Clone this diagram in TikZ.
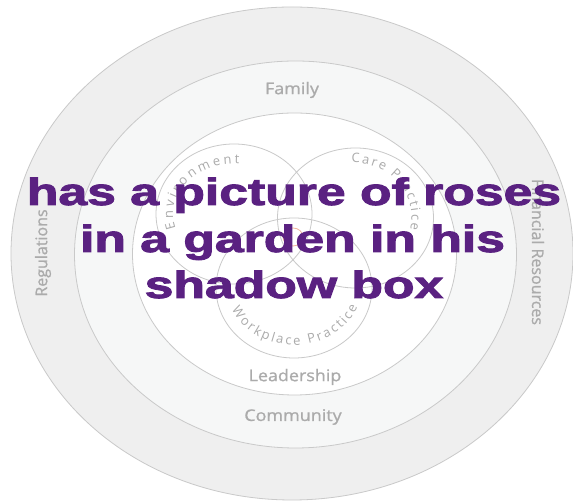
\documentclass[tikz,border=0pt]{standalone}
\usepackage{fontspec}
\setmainfont{Liberation Sans}
\newfontfamily\ringfont{Open Sans}[FakeBold=1]
\newfontfamily\arcfont{Open Sans}
\newfontfamily\quotefont{Liberation Sans Bold}[FakeBold=2.2]
\usetikzlibrary{decorations.text}
\definecolor{ringline}{HTML}{C9C9C9}
\definecolor{ringouter}{HTML}{EFEFEF}
\definecolor{ringmid}{HTML}{F6F7F7}
\definecolor{labelgray}{HTML}{ABABAB}
\definecolor{quotepurple}{HTML}{5A2181}
\definecolor{coreorange}{HTML}{F2B49C}

\begin{document}
\begin{tikzpicture}[x=1pt,y=1pt,
    ringlabel/.style={font=\ringfont\fontsize{16}{16}\selectfont, text=labelgray, inner sep=0pt},
    arclabel/.style={decorate, decoration={text along path, text align=fit to path, text color=labelgray, text={|\arcfont\fontsize{13}{13}\selectfont|#1}}},
    quoteline/.style={font=\quotefont\fontsize{38}{38}\selectfont, text=quotepurple, inner sep=0pt, anchor=base, xscale=1.36}]
        \useasboundingbox (0,0) rectangle (573,502);
        \fill[white] (0,0) rectangle (573,502);
        % rings
        \foreach \cx/\cy/\rx/\ry/\c in {292/248.5/281/246.5/ringouter,295.5/247.5/221/193.5/ringmid,294.5/248/162/141/white}
          \filldraw[fill=\c, draw=ringline, line width=0.8pt] (\cx,\cy) ellipse[x radius=\rx, y radius=\ry];
        % venn
        \foreach \n/\cx/\cy in {env/234/288,care/355.5/284,work/294/214} \coordinate (\n) at (\cx,\cy);
        \foreach \n in {env,care,work}
          \draw[ringline, line width=0.8pt] (\n) ellipse[x radius=78, y radius=70];
        \coordinate (core) at (293,265);
        \draw[coreorange, line width=0.8pt] (core) ellipse[x radius=10, y radius=9];
        \path[arclabel=Environment] (env) ++(197:61 and 50) arc[start angle=197, end angle=85, x radius=61, y radius=50];
        \path[arclabel=Care Practice] (care) ++(94:56 and 55) arc[start angle=94, end angle=-12, x radius=56, y radius=55];
        \path[arclabel=Workplace Practice] (work) ++(202:67 and 57) arc[start angle=202, end angle=341, x radius=67, y radius=57];
        % ring names
        \node[ringlabel, xscale=1.12] (family) at (292,412) {Family};
        \node[ringlabel, xscale=1.12] (leadership) at (295,125) {Leadership};
        \node[ringlabel, xscale=1.12] (community) at (293,85) {Community};
        \node[ringlabel, rotate=90] (regulations) at (43,249) {Regulations};
        \node[ringlabel, rotate=-90] (finance) at (538,250) {Financial Resources};
        % quote
        \foreach \n/\x/\y/\t in {quote1/294/297/has a picture of roses,quote2/292.5/250/in a garden in his,quote3/294/204/shadow box}
          \node[quoteline] (\n) at (\x,\y) {\t};
\end{tikzpicture}
\end{document}
